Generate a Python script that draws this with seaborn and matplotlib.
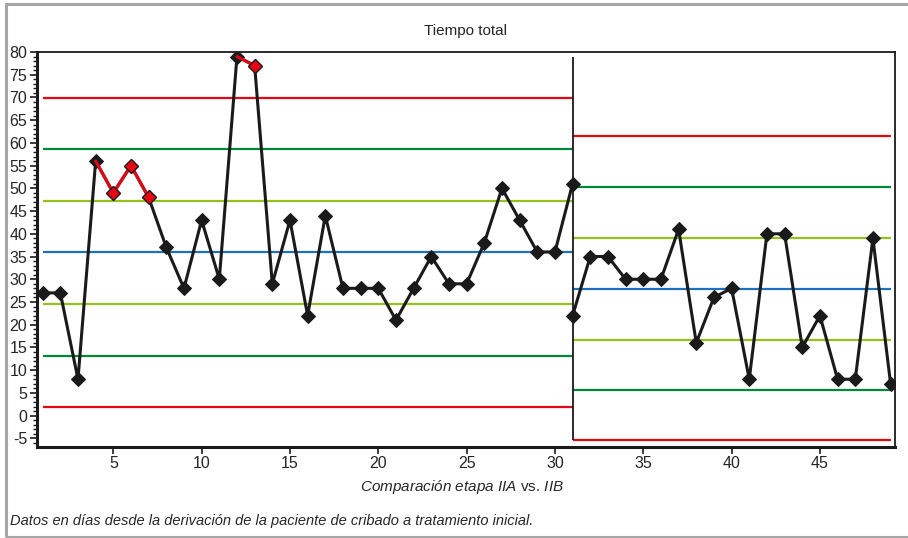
import numpy as np
import pandas as pd
import seaborn as sns
import matplotlib.pyplot as plt
from matplotlib.patches import Rectangle
from matplotlib.ticker import MultipleLocator

# Data
x_phase1 = list(range(1, 32))
y_phase1 = [27, 27, 8, 56, 49, 55, 48, 37, 28, 43, 30, 79, 77, 29, 43, 22,
            44, 28, 28, 28, 21, 28, 35, 29, 29, 38, 50, 43, 36, 36, 51]
red_phase1 = [5, 6, 7, 13]

x_phase2 = list(range(31, 50))
y_phase2 = [22, 35, 35, 30, 30, 30, 41, 16, 26, 28, 8, 40, 40, 15, 22, 8, 8, 39, 7]

# control limits (centre, +-1, +-2, +-3 sigma)
limits_phase1 = [69.9, 58.7, 47.3, 35.9, 24.5, 13.2, 2.0]
limits_phase2 = [61.6, 50.3, 39.0, 27.8, 16.7, 5.6, -5.3]
limit_colors = ['#e30613', '#00883a', '#95c11f', '#1d71b8', '#95c11f', '#00883a', '#e30613']

title = 'Tiempo total'
footnote = 'Datos en días desde la derivación de la paciente de cribado a tratamiento inicial.'

sns.set_style('ticks')
plt.rcParams['font.family'] = ['Liberation Sans', 'DejaVu Sans']
plt.rcParams['mathtext.fontset'] = 'custom'
plt.rcParams['mathtext.rm'] = 'Liberation Sans'
plt.rcParams['mathtext.it'] = 'Liberation Sans:italic'
plt.rcParams['axes.unicode_minus'] = False

fig = plt.figure(figsize=(9.08, 5.38), dpi=100)
ax = fig.add_axes([37 / 908, 1 - 446.5 / 538, (895 - 37) / 908, (446.5 - 52) / 538])

# control limit lines
for val, col in zip(limits_phase1, limit_colors):
    ax.hlines(val, x_phase1[0], x_phase1[-1], color=col, lw=1.6, zorder=1)
for val, col in zip(limits_phase2, limit_colors):
    ax.hlines(val, x_phase2[0], x_phase2[-1], color=col, lw=1.6, zorder=1)

# phase separator
ax.vlines(31, limits_phase2[-1], 79.0, color='#1a1a1a', lw=1.3, zorder=2)

df1 = pd.DataFrame({'x': x_phase1, 'y': y_phase1})
df2 = pd.DataFrame({'x': x_phase2, 'y': y_phase2})
for d in (df1, df2):
    sns.lineplot(data=d, x='x', y='y', ax=ax, color='#1a1a1a', lw=2.2,
                 marker='D', markersize=7.5, markeredgecolor='#1a1a1a', zorder=3)

# out-of-control segments and points in red
for p in red_phase1:
    i = x_phase1.index(p)
    seg = df1.iloc[i - 1:i + 1]
    sns.lineplot(data=seg, x='x', y='y', ax=ax, color='#e30613', lw=2.2, zorder=4)
    ax.plot(x_phase1[i], y_phase1[i], marker='D', ms=7.5, color='#e30613',
            mec='#1a1a1a', mew=0.9, zorder=5)

ax.set_xlim(0.68, 49.25)
ax.set_ylim(-6.8, 80)
ax.set_xticks(range(5, 50, 5))
ax.yaxis.set_major_locator(MultipleLocator(5))
ax.yaxis.set_minor_locator(MultipleLocator(1))
ax.tick_params(axis='both', labelsize=11.5, color='#1a1a1a', width=1.2, length=5, pad=2)
ax.tick_params(axis='y', which='minor', length=3, width=1.0, color='#1a1a1a')
ax.set_xlabel('')
ax.set_ylabel('')

for side in ['left', 'bottom']:
    ax.spines[side].set_linewidth(2.2)
    ax.spines[side].set_color('#1a1a1a')
for side in ['top', 'right']:
    ax.spines[side].set_visible(True)
    ax.spines[side].set_linewidth(1.3)
    ax.spines[side].set_color('#1a1a1a')

fig.text(466 / 908, 1 - 31 / 538, title, ha='center', va='center', fontsize=11)
fig.text(462 / 908, 1 - 487 / 538,
         r'$\mathit{Comparación\ etapa\ IIA}$ vs. $\mathit{IIB}$',
         ha='center', va='center', fontsize=11)
fig.text(10 / 908, 1 - 521 / 538, footnote, ha='left', va='center',
         fontsize=10.5, style='italic')

# grey outer frame
fig.add_artist(Rectangle((6 / 908, 1.5 / 538), 1.2, 1 - 5.5 / 538,
                         transform=fig.transFigure, fill=False,
                         edgecolor='#a6a6a6', lw=2.2))

fig.savefig('out.png', dpi=100)
